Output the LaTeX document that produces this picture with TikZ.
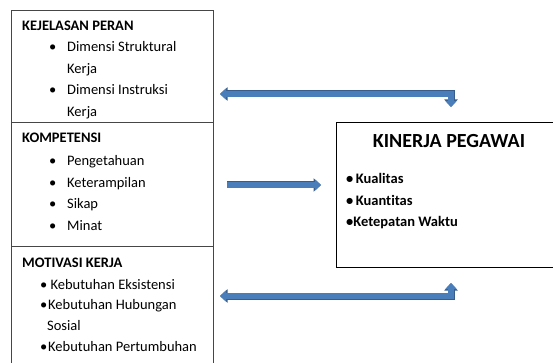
\documentclass[tikz,border=0pt]{standalone}
\usepackage{fontspec}
\setmainfont{Carlito}[Ligatures={NoCommon,NoContextual}]
\usetikzlibrary{arrows.meta, positioning}
\definecolor{flowblue}{RGB}{74,126,187}
\definecolor{flowedge}{RGB}{56,93,138}
\definecolor{boxline}{RGB}{70,70,70}
\newcommand{\itm}{\hspace*{27pt}\makebox[18pt][l]{•}}
\newcommand{\itmb}{\hspace*{18pt}\makebox[8pt][l]{•}}
\tikzset{
  % Arrowheads of the block arrows
  blk/.tip={Triangle[width=11pt,length=6pt]},
  blkedge/.tip={Triangle[width=13pt,length=7.5pt]},
  % Factor box
  factor/.style={draw=boxline, line width=0.9pt, anchor=north west,
    minimum width=202pt, inner sep=0pt},
  % Text inside a box
  txt/.style={anchor=north west, align=left, inner sep=0pt,
    font=\fontsize{14.5}{21.5}\selectfont},
  % Block arrows
  flow/.style={draw=flowblue, line width=5.5pt, line join=miter, blk-blk,
    preaction={draw=flowedge, line width=7pt, blkedge-blkedge}},
  flowone/.style={draw=flowblue, line width=5.5pt, -blk,
    preaction={draw=flowedge, line width=7pt, -blkedge}},
}
\begin{document}
\begin{tikzpicture}[x=1pt, y=-1pt]
  \clip (0,0) rectangle (553,363);

  % left column
  \node[factor, minimum height=112pt] (peran) at (11,10) {};
  \node[factor, minimum height=124pt] (kompetensi) at (11,122) {};
  \node[factor, minimum height=140pt] (motivasi) at (11,246) {};

  \node[txt] (peran-txt) at (22,20.5) {\textbf{KEJELASAN PERAN}\\
    \itm Dimensi Struktural\\ \hspace*{45pt}Kerja\\
    \itm Dimensi Instruksi\\ \hspace*{45pt}Kerja};
  \node[txt] (kompetensi-txt) at (22,132.5) {\textbf{KOMPETENSI}\\[2pt]
    \itm Pengetahuan\\ \itm Keterampilan\\ \itm Sikap\\ \itm Minat};
  \node[txt] (motivasi-txt) at (22,257.5) {\textbf{MOTIVASI KERJA}\\[0.5pt]
    \itmb\,Kebutuhan Eksistensi\\[-1pt] \itmb Kebutuhan Hubungan\\[-1pt]
    \hspace*{25pt}Sosial\\[-0.5pt] \itmb Kebutuhan Pertumbuhan};

  % result box
  \node[factor, minimum width=240pt, minimum height=145pt, draw=black]
    (kinerja) at (336,122) {};
  \node[font=\fontsize{20}{22}\selectfont\bfseries, inner sep=0pt]
    (kinerja-title) at (449,141) {KINERJA PEGAWAI};
  \node[txt, font=\fontsize{14.5}{21.5}\selectfont\bfseries]
    (kinerja-txt) at (346,173.5) {•\,Kualitas\\ •\,Kuantitas\\ •Ketepatan Waktu};

  % arrows
  \coordinate (peran-tip) at (220,94);
  \coordinate (peran-bend) at (451,94);
  \coordinate (peran-end) at (451,107);
  \coordinate (komp-start) at (227,185);
  \coordinate (komp-end) at (321,185);
  \coordinate (motiv-tip) at (220,296);
  \coordinate (motiv-bend) at (451,296);
  \coordinate (motiv-end) at (451,283);

  \draw[flow] (peran-tip) -- (peran-bend) -- (peran-end);
  \draw[flowone] (komp-start) -- (komp-end);
  \draw[flow] (motiv-tip) -- (motiv-bend) -- (motiv-end);
\end{tikzpicture}
\end{document}
